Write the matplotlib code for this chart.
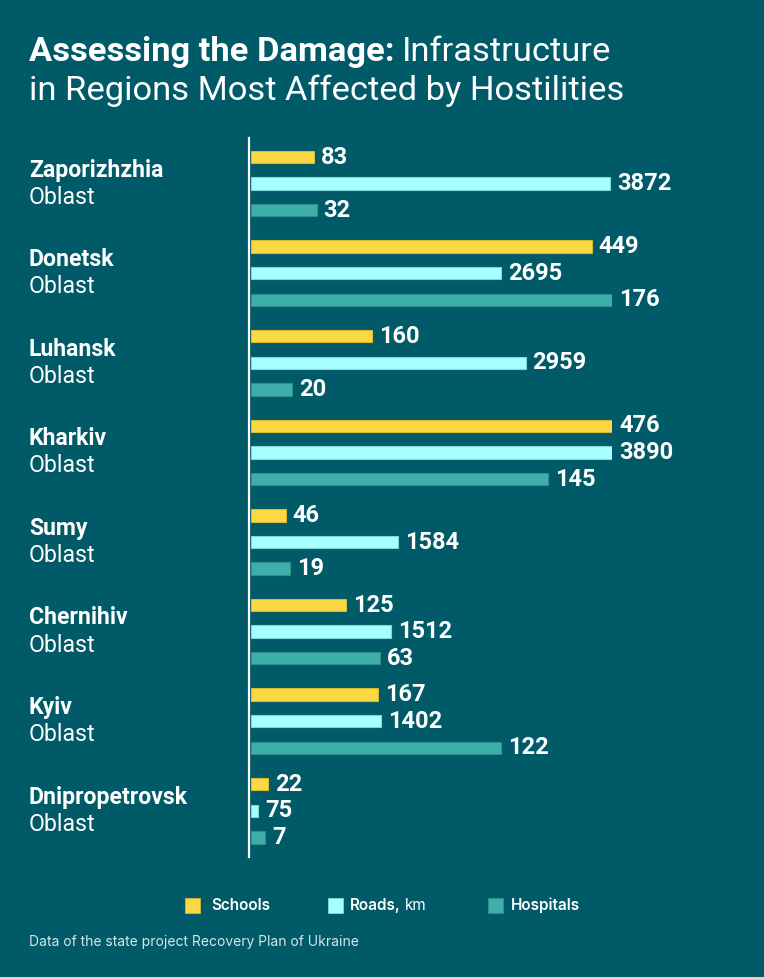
#---- Imports ----------------------------------------------------------------#

import matplotlib
matplotlib.use('Agg')
import matplotlib.pyplot as plt
from matplotlib.lines import Line2D
from matplotlib.patches import Rectangle
import numpy as np

#---- Data -------------------------------------------------------------------#

regions = ['Zaporizhzhia', 'Donetsk', 'Luhansk', 'Kharkiv', 'Sumy',
           'Chernihiv', 'Kyiv', 'Dnipropetrovsk']
schools = [83, 449, 160, 476, 46, 125, 167, 22]
roads = [3872, 2695, 2959, 3890, 1584, 1512, 1402, 75]
hospitals = [32, 176, 20, 145, 19, 63, 122, 7]

series_names = ['Schools', 'Roads,', 'Hospitals']
series_colors = ['#fcd844', '#a9ffff', '#3fafac']
edge_colors = ['#d8b82c', '#7fd8d8', '#2f8f8c']

#---- Style ------------------------------------------------------------------#

BG = '#005a67'
W, H = 764, 977
plt.rcParams['font.family'] = ['Roboto', 'DejaVu Sans']

fig = plt.figure(figsize=(W/100, H/100), dpi=100)
fig.patch.set_facecolor(BG)

def fx(px): return px / W            #pixel -> figure x
def fy(py): return 1 - py / H        #pixel -> figure y (from top)

#---- Title ------------------------------------------------------------------#

t1 = fig.text(fx(29), fy(52), 'Assessing the Damage:', color='white',
              fontsize=24.8, fontweight='bold', va='center', ha='left')
fig.canvas.draw()
bb = t1.get_window_extent()
fig.text(fx(bb.x1 + 7), fy(52), 'Infrastructure', color='white',
         fontsize=24.8, va='center', ha='left')
fig.text(fx(29), fy(91), 'in Regions Most Affected by Hostilities',
         color='white', fontsize=24.8, va='center', ha='left')

#---- Bars -------------------------------------------------------------------#

top, bottom = 138, 857
ax = fig.add_axes([fx(251), fy(bottom), fx(612 - 251), (bottom - top) / H])
ax.set_facecolor('none')
ax.set_xlim(0, 1)
ax.set_ylim(bottom, top)
ax.axis('off')

group_step, row_step, bar_h = 89.6, 26.6, 12.5
first = 157
series = [schools, roads, hospitals]
for j, vals in enumerate(series):
    vals = np.array(vals, dtype=float)
    norm = vals / vals.max()                 #each series scaled to its max
    ys = first + np.arange(len(regions)) * group_step + j * row_step
    ax.barh(ys, norm, height=bar_h, color=series_colors[j],
            edgecolor=edge_colors[j], linewidth=0.8, left=0)
    for y, n, v in zip(ys, norm, vals):
        ax.text(n + 7/361, y, f'{int(v)}', color='white', fontsize=17,
                fontweight='bold', va='center', ha='left', clip_on=False)

#Vertical axis line
fig.add_artist(Line2D([fx(249), fx(249)], [fy(top), fy(bottom)],
                      color='white', linewidth=1.6))

#Region labels
for i, r in enumerate(regions):
    yc = first + i * group_step
    fig.text(fx(29), fy(yc + 13), r, color='white', fontsize=16.6,
             fontweight='bold', va='center', ha='left')
    fig.text(fx(29), fy(yc + 40), 'Oblast', color='white', fontsize=16.6,
             va='center', ha='left')

#---- Legend -----------------------------------------------------------------#

leg_font = ['Inter', 'DejaVu Sans']
sq_x = [185, 328, 488]
tx_x = [211, 350, 511]
for j in range(3):
    fig.add_artist(Rectangle((fx(sq_x[j]), fy(913)), fx(15), 15/H,
                             facecolor=series_colors[j],
                             edgecolor=edge_colors[j], linewidth=0.6))
    t = fig.text(fx(tx_x[j]), fy(910), series_names[j], color='white',
                 fontsize=11, fontweight='semibold', family=leg_font,
                 va='baseline', ha='left')
    if j == 1:
        fig.canvas.draw()
        b = t.get_window_extent()
        fig.text(fx(b.x1 + 4), fy(910), 'km', color='white', fontsize=11,
                 family=leg_font, va='baseline', ha='left')

#---- Source -----------------------------------------------------------------#

fig.text(fx(29), fy(942), 'Data of the state project Recovery Plan of Ukraine',
         color='#d8e6e8', fontsize=10, family=leg_font, va='center',
         ha='left')

plt.savefig('out.png', dpi=100, facecolor=BG)
